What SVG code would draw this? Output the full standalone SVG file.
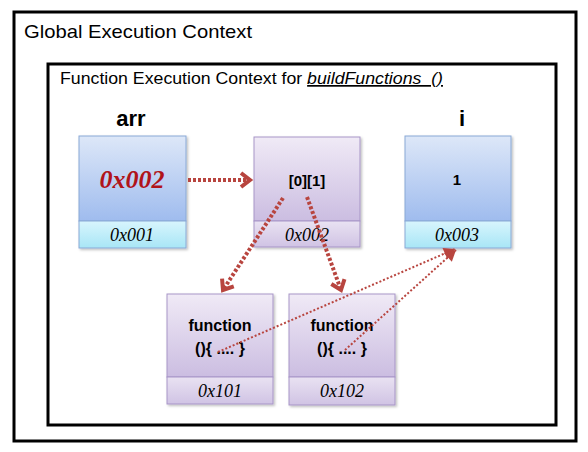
<svg xmlns="http://www.w3.org/2000/svg" width="588" height="452" viewBox="0 0 588 452">
<style>
.frame{fill:#fff;stroke:#000;stroke-width:3}
.ctx{font-family:"Liberation Sans",Arial,sans-serif;fill:#000}
.lbl{font-family:"Liberation Sans",Arial,sans-serif;font-weight:bold;fill:#000;text-anchor:middle}
.addr{font-family:"Liberation Serif","Times New Roman",serif;font-style:italic;font-size:18px;fill:#000;text-anchor:middle}
.bluebox{fill:url(#gBlue);stroke:#8aa9d6;stroke-width:1}
.bluecell{fill:url(#gCyan);stroke:#8aa9d6;stroke-width:1}
.purpbox{fill:url(#gPurp);stroke:#a795c7;stroke-width:1}
.purpcell{fill:url(#gPurpC);stroke:#a795c7;stroke-width:1}
.thick{fill:none;stroke:#b8453f;stroke-width:4;stroke-dasharray:3 2}
.thin{fill:none;stroke:#b8453f;stroke-width:2;stroke-dasharray:2 2}
</style>
<defs>
<linearGradient id="gBlue" x1="0" y1="0" x2="0" y2="1"><stop offset="0" stop-color="#dde7f8"/><stop offset="1" stop-color="#9fbcee"/></linearGradient>
<linearGradient id="gCyan" x1="0" y1="0" x2="0" y2="1"><stop offset="0" stop-color="#d8f5fd"/><stop offset="1" stop-color="#a8e6f6"/></linearGradient>
<linearGradient id="gPurp" x1="0" y1="0" x2="0" y2="1"><stop offset="0" stop-color="#f0eaf6"/><stop offset="1" stop-color="#cbbde1"/></linearGradient>
<linearGradient id="gPurpC" x1="0" y1="0" x2="0" y2="1"><stop offset="0" stop-color="#e9e2f2"/><stop offset="1" stop-color="#d0c3e4"/></linearGradient>
<filter id="sh" x="-10%" y="-10%" width="130%" height="130%"><feDropShadow dx="1.5" dy="1.5" stdDeviation="1.2" flood-color="#000" flood-opacity="0.25"/></filter>
<marker id="chev" markerUnits="userSpaceOnUse" markerWidth="20" markerHeight="20" viewBox="-12 -10 14 20" refX="0" refY="0" orient="auto">
<polyline points="-9,-7 0,0 -9,7" fill="none" stroke="#b8453f" stroke-width="4" stroke-linejoin="miter"/>
</marker>
<marker id="tri" markerUnits="userSpaceOnUse" markerWidth="16" markerHeight="16" viewBox="-12 -8 14 16" refX="0" refY="0" orient="auto">
<polygon points="-11,-6 0,0 -11,6" fill="#b8453f"/>
</marker>
</defs>
<rect x="0" y="0" width="588" height="452" fill="#fff"/>
<g id="global">
<rect class="frame" x="14" y="12" width="562" height="429"/>
<text class="ctx" x="24" y="38" font-size="19" textLength="228" lengthAdjust="spacingAndGlyphs">Global Execution Context</text>
</g>
<g id="function-context">
<rect class="frame" x="48" y="64" width="508" height="361"/>
<text class="ctx" x="60" y="84" font-size="17" textLength="383" lengthAdjust="spacingAndGlyphs">Function Execution Context for <tspan font-style="italic" text-decoration="underline">buildFunctions&#160; ()</tspan></text>
</g>
<g id="arr">
<text class="lbl" x="131" y="126" font-size="22">arr</text>
<g filter="url(#sh)">
<rect class="bluebox" x="79" y="136" width="107" height="85"/>
<rect class="bluecell" x="79" y="221" width="107" height="27"/>
</g>
<text x="132" y="188" font-family="'Liberation Serif','Times New Roman',serif" font-style="italic" font-weight="bold" font-size="26" fill="#b0141a" text-anchor="middle">0x002</text>
<text class="addr" x="132" y="241">0x001</text>
</g>
<g id="array">
<g filter="url(#sh)">
<rect class="purpbox" x="254" y="137" width="106" height="84"/>
<rect class="purpcell" x="254" y="221" width="106" height="26"/>
</g>
<text class="lbl" x="307" y="186" font-size="15">[0][1]</text>
<text class="addr" x="307" y="241">0x002</text>
</g>
<g id="i">
<text class="lbl" x="462" y="126" font-size="22">i</text>
<g filter="url(#sh)">
<rect class="bluebox" x="405" y="136" width="106" height="85"/>
<rect class="bluecell" x="405" y="221" width="106" height="27"/>
</g>
<text class="lbl" x="457" y="185" font-size="15">1</text>
<text class="addr" x="457" y="241">0x003</text>
</g>
<g id="func1">
<g filter="url(#sh)">
<rect class="purpbox" x="167" y="294" width="106" height="83"/>
<rect class="purpcell" x="167" y="377" width="106" height="27"/>
</g>
<text class="lbl" x="220" y="331" font-size="16">function</text>
<text class="lbl" x="220" y="354" font-size="16">(){ .... }</text>
<text class="addr" x="220" y="397">0x101</text>
</g>
<g id="func2">
<g filter="url(#sh)">
<rect class="purpbox" x="289" y="294" width="106" height="83"/>
<rect class="purpcell" x="289" y="377" width="106" height="28"/>
</g>
<text class="lbl" x="342" y="331" font-size="16">function</text>
<text class="lbl" x="342" y="354" font-size="16">(){ .... }</text>
<text class="addr" x="342" y="397">0x102</text>
</g>
<g id="connectors">
<path class="thick" d="M188,180 L250,180" marker-end="url(#chev)"/>
<path class="thick" d="M283,198 L223,290" marker-end="url(#chev)"/>
<path class="thick" d="M307,197 L341,290" marker-end="url(#chev)"/>
<path class="thin" d="M218,352 L455,249" marker-end="url(#tri)"/>
<path class="thin" d="M345,350 L456,250" marker-end="url(#tri)"/>
</g>
</svg>
